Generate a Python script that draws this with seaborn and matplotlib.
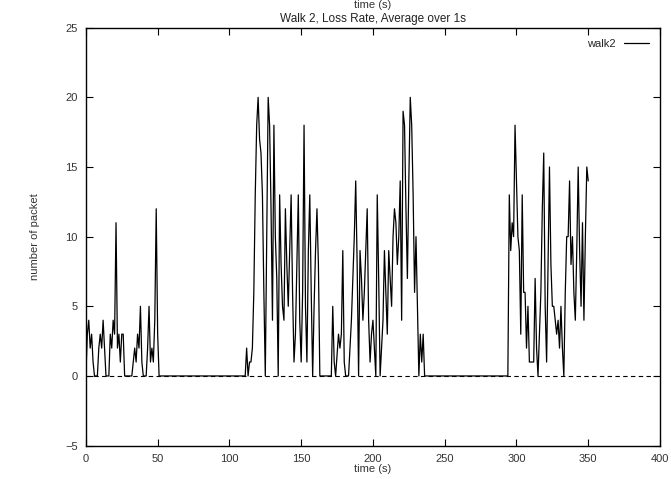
import matplotlib
matplotlib.use("Agg")
import matplotlib.pyplot as plt
import seaborn as sns
import pandas as pd

# Estimated per-second samples (time in s, lost packets)
seg1_t = [0, 1, 2, 3, 4, 5, 6, 8, 9, 10, 11, 12, 13, 14, 16, 17, 18, 19, 20, 21, 22, 23, 24, 25, 26, 27,
          32, 33, 34, 35, 36, 37, 38, 39, 40, 42, 43, 44, 45, 46, 47, 48, 49, 50, 51, 111]
seg1_v = [0, 3, 4, 2, 3, 1, 0, 0, 2, 3, 2, 4, 2, 0, 0, 3, 2, 4, 3, 11, 2, 3, 1, 3, 3, 0,
          0, 1, 2, 1, 3, 2, 5, 1, 0, 0, 2, 5, 1, 2, 1, 4, 12, 3, 0, 0]

seg2_t = [112, 113, 114, 115, 116, 117, 118, 119, 120, 121, 122, 123, 124, 125, 126, 127, 128, 129, 130,
          131, 132, 133, 134, 135, 136, 137, 138, 139, 140, 141, 142, 143, 144, 145, 146, 147, 148, 149,
          150, 151, 152, 153, 154, 155, 156, 157, 158, 159, 160, 161, 162, 163, 171, 172, 173, 174, 176,
          177, 178, 179, 180, 181, 183, 184, 185, 186, 187, 188, 189, 190, 191, 192, 193, 194, 195, 196,
          197, 198, 199, 200, 201, 202, 203, 204, 205, 206, 207, 208, 209, 210, 211, 212, 213, 214, 215,
          216, 217, 218, 219, 220, 221, 222, 223, 224, 225, 226, 227, 228, 229, 230, 231, 232, 233, 234,
          235, 236, 294]
seg2_v = [2, 0, 1, 1, 2, 6, 13, 18, 20, 17, 16, 13, 6, 0, 10, 20, 18, 12, 4,
          18, 10, 7, 0, 13, 8, 5, 4, 12, 8, 5, 9, 13, 6, 1, 3, 8, 13, 4,
          1, 6, 18, 5, 1, 9, 13, 6, 0, 5, 9, 12, 8, 0, 0, 5, 1, 0, 3,
          2, 3, 9, 1, 0, 0, 2, 4, 7, 10, 14, 8, 0, 9, 7, 4, 6, 9, 12,
          4, 1, 3, 4, 2, 0, 13, 7, 0, 2, 4, 9, 6, 3, 9, 7, 5, 10, 12,
          11, 8, 10, 14, 4, 19, 18, 12, 7, 14, 20, 18, 13, 6, 10, 5, 0, 3, 1,
          3, 0, 0]

seg3_t = [295, 296, 297, 298, 299, 300, 301, 302, 303, 304, 305, 306, 307, 308, 309, 310, 311, 312, 313,
          314, 315, 316, 317, 318, 319, 320, 321, 322, 323, 324, 325, 326, 327, 328, 329, 330, 331, 332,
          333, 334, 335, 336, 337, 338, 339, 340, 341, 342, 343, 344, 345, 346, 347, 348, 349, 350]
seg3_v = [13, 9, 11, 10, 18, 14, 10, 9, 3, 13, 6, 6, 2, 5, 1, 1, 1, 1, 7,
          2, 0, 3, 6, 12, 16, 5, 1, 8, 15, 8, 5, 5, 4, 3, 4, 2, 5, 2,
          0, 6, 10, 10, 14, 8, 10, 6, 4, 9, 15, 9, 5, 11, 4, 10, 15, 14]

time_s = seg1_t + seg2_t + seg3_t
loss = seg1_v + seg2_v + seg3_v

x_ticks = [0, 50, 100, 150, 200, 250, 300, 350, 400]
y_ticks = [-5, 0, 5, 10, 15, 20, 25]

sns.set_style("ticks")
plt.rcParams['font.family'] = ['Liberation Sans', 'DejaVu Sans']

df = pd.DataFrame({"time (s)": time_s, "number of packet": loss})

fig = plt.figure(figsize=(6.71, 4.79), dpi=100)
ax = fig.add_axes([0.128, 0.0697, 0.8556, 0.8725])

ax.axhline(0, color="black", lw=0.8, ls=(0, (4, 3)), zorder=1)
sns.lineplot(data=df, x="time (s)", y="number of packet", ax=ax, color="black",
             lw=0.9, label="walk2", zorder=2)

ax.set_xlim(0, 400)
ax.set_ylim(-5, 25)
ax.set_xticks(x_ticks)
ax.set_yticks(y_ticks)
ax.tick_params(direction="in", top=True, right=True, length=5, width=0.8,
               labelsize=8, colors="black", labelcolor="#333333", pad=6)
for s in ax.spines.values():
    s.set_visible(True)
    s.set_linewidth(1.0)
    s.set_color("black")

ax.set_xlabel("time (s)", fontsize=8, labelpad=0, color="#333333")
ax.set_ylabel("number of packet", fontsize=8, labelpad=18, color="#333333")
ax.set_title("Walk 2, Loss Rate, Average over 1s", fontsize=8.5, pad=4, color="#222222")
fig.text(0.555, 0.999, "time (s)", fontsize=8, ha="center", va="top", color="#333333")

leg = ax.legend(loc="upper right", frameon=False, markerfirst=False, fontsize=8,
                handlelength=2.2, borderaxespad=0.6)

fig.savefig("out.png", dpi=100)
